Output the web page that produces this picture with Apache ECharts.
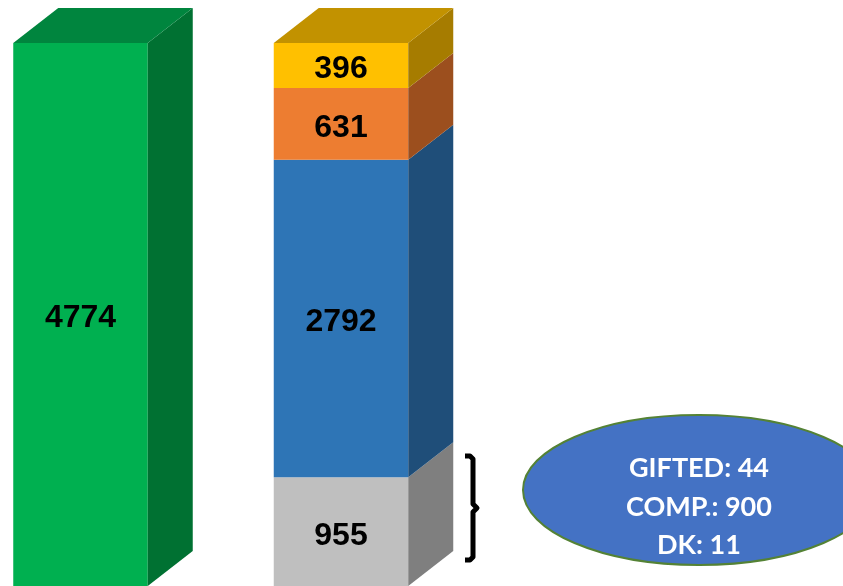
<!DOCTYPE html>
<html>
<head>
<meta charset="utf-8">
<script src="https://cdn.jsdelivr.net/npm/echarts@6/dist/echarts.min.js"></script>
<style>
html,body{margin:0;padding:0;background:#fff;}
#chart{width:843px;height:586px;}
</style>
</head>
<body>
<div id="chart"></div>
<script>
// ---- data ----
const barPositions = [0, 1];
const totalValues = [4774];
const stackNames = ['Segment A', 'Segment B', 'Segment C', 'Segment D'];
const stackValues = [955, 2792, 631, 396];
const noteLines = ['GIFTED: 44', 'COMP.: 900', 'DK: 11'];

// ---- styles ----
const totalColors = { front: '#00B050', side: '#007132', top: '#00853E' };
const stackColors = [
  { front: '#BFBFBF', side: '#7F7F7F', top: '#9A9A9A' },
  { front: '#2E75B6', side: '#1F4E79', top: '#245D91' },
  { front: '#ED7D31', side: '#9C4F1E', top: '#B8602A' },
  { front: '#FFC000', side: '#A67C00', top: '#C29200' }
];
const DX = 45, DY = 35;
const BAR_W = 0.5163;

function makeRender(colors, isTop) {
  return function (params, api) {
    const x = api.value(0), y0 = api.value(1), y1 = api.value(2);
    const pb = api.coord([x, y0]);
    const pt = api.coord([x, y1]);
    const w = api.size([BAR_W, 0])[0];
    const l = pb[0] - w / 2, r = pb[0] + w / 2;
    const children = [
      { type: 'rect', shape: { x: l, y: pt[1], width: w, height: pb[1] - pt[1] }, style: { fill: colors.front } },
      { type: 'polygon', shape: { points: [[r, pt[1]], [r + DX, pt[1] - DY], [r + DX, pb[1] - DY], [r, pb[1]]] }, style: { fill: colors.side } }
    ];
    if (isTop) {
      children.push({ type: 'polygon', shape: { points: [[l, pt[1]], [l + DX, pt[1] - DY], [r + DX, pt[1] - DY], [r, pt[1]]] }, style: { fill: colors.top } });
    }
    children.push({
      type: 'text',
      style: {
        text: String(Math.round(y1 - y0)),
        x: pb[0], y: (pb[1] + pt[1]) / 2 + 4,
        align: 'center', verticalAlign: 'middle',
        fill: '#000', font: 'bold 32px "Liberation Sans", Arial, sans-serif'
      }
    });
    return { type: 'group', children: children };
  };
}

const series = [];
series.push({
  type: 'custom', name: 'Total', clip: false,
  renderItem: makeRender(totalColors, true),
  encode: { x: 0, y: [1, 2] },
  data: [[barPositions[0], 0, totalValues[0]]]
});
let acc = 0;
stackValues.forEach(function (v, i) {
  series.push({
    type: 'custom', name: stackNames[i], clip: false,
    renderItem: makeRender(stackColors[i], i === stackValues.length - 1),
    encode: { x: 0, y: [1, 2] },
    data: [[barPositions[1], acc, acc + v]]
  });
  acc += v;
});

const chart = echarts.init(document.getElementById('chart'), null, { renderer: 'canvas' });
chart.setOption({
  animation: false,
  grid: { left: 0, top: 17.2, width: 843, height: 570.8 },
  xAxis: { type: 'value', min: -0.309, max: 2.927, show: false },
  yAxis: { type: 'value', min: 0, max: 5000, show: false },
  series: series,
  graphic: [
    {
      type: 'polyline',
      shape: { points: [[465, 456], [470, 456], [473, 459], [473, 504], [477, 508], [473, 512], [473, 557], [470, 560], [465, 560]] },
      style: { stroke: '#000', lineWidth: 5, fill: null, lineJoin: 'round' }
    },
    {
      type: 'ellipse',
      shape: { cx: 699, cy: 490, rx: 176, ry: 75 },
      style: { fill: '#4472C4', stroke: '#548235', lineWidth: 2 }
    },
    {
      type: 'text',
      style: {
        text: noteLines.join('\n'),
        x: 699, y: 507,
        align: 'center', verticalAlign: 'middle',
        lineHeight: 38.5,
        fill: '#fff', font: 'bold 27px Lato, "Open Sans", sans-serif'
      }
    }
  ]
});
</script>
</body>
</html>
